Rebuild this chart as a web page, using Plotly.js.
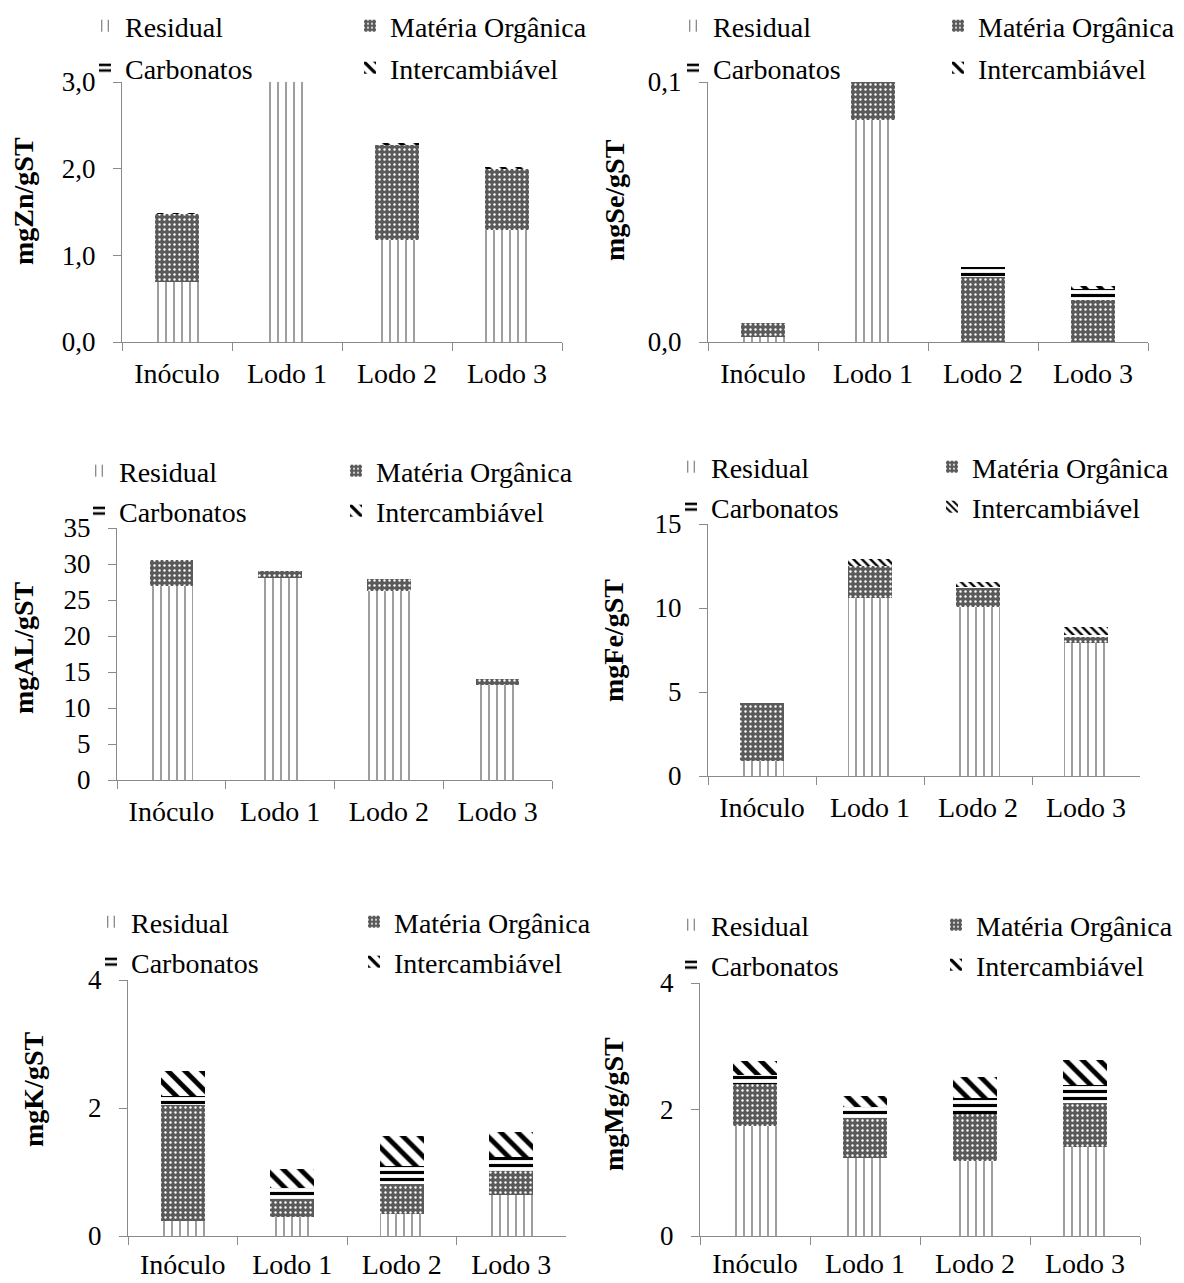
<!DOCTYPE html>
<html><head><meta charset="utf-8">
<script src="https://cdn.plot.ly/plotly-3.0.1.min.js"></script>
<style>html,body{margin:0;padding:0;background:#fff}</style>
</head><body><div id="chart" style="width:1184px;height:1283px"></div>
<script>
const categories = ['Inóculo', 'Lodo 1', 'Lodo 2', 'Lodo 3'];
const fractionNames = ['Residual', 'Matéria Orgânica', 'Carbonatos', 'Intercambiável'];

// Zn (mg/gST)
const znResidual = [0.69, 3.0, 1.18, 1.29];
const znMateria  = [0.79, 0.0, 1.09, 0.71];
const znCarbon   = [0.0, 0.0, 0.0, 0.0];
const znInterc   = [0.01, 0.0, 0.03, 0.02];
// Se
const seResidual = [0.002, 0.0853, 0.0, 0.0];
const seMateria  = [0.0053, 0.0147, 0.025, 0.016];
const seCarbon   = [0.0, 0.0, 0.0038, 0.0045];
const seInterc   = [0.0, 0.0, 0.0, 0.001];
// Al
const alResidual = [27.0, 28.1, 26.2, 13.2];
const alMateria  = [3.5, 0.9, 1.7, 0.8];
const alCarbon   = [0.0, 0.0, 0.0, 0.0];
const alInterc   = [0.0, 0.0, 0.0, 0.0];
// Fe
const feResidual = [0.89, 10.58, 10.08, 7.9];
const feMateria  = [3.44, 1.92, 1.09, 0.35];
const feCarbon   = [0.0, 0.0, 0.1, 0.14];
const feInterc   = [0.0, 0.42, 0.3, 0.46];
// K
const kResidual = [0.235, 0.29, 0.35, 0.64];
const kMateria  = [1.805, 0.284, 0.46, 0.37];
const kCarbon   = [0.15, 0.183, 0.29, 0.22];
const kInterc   = [0.39, 0.283, 0.47, 0.40];
// Mg
const mgResidual = [1.74, 1.24, 1.18, 1.40];
const mgMateria  = [0.67, 0.62, 0.75, 0.71];
const mgCarbon   = [0.14, 0.18, 0.25, 0.28];
const mgInterc   = [0.21, 0.17, 0.33, 0.40];

const W = 1184, H = 1283;
const FONT = 'Liberation Serif, Times New Roman, serif';

const panels = [
  {title: 'mgZn/gST', series: [znResidual, znMateria, znCarbon, znInterc], range: [0, 3], dtick: 1, fmt: '.1f',
   x0: 122, x1: 562, yTop: 82, yBot: 342, legX: [125, 390], legY: [26, 68], titleX: 23, titleY: 201, intSize: 11, lblGap: 6},
  {title: 'mgSe/gST', series: [seResidual, seMateria, seCarbon, seInterc], range: [0, 0.1], dtick: 0.1, fmt: '.1f',
   x0: 708, x1: 1148, yTop: 82, yBot: 342, legX: [713, 978], legY: [26, 68], titleX: 614, titleY: 200, intSize: 11, lblGap: 6},
  {title: 'mgAL/gST', series: [alResidual, alMateria, alCarbon, alInterc], range: [0, 35], dtick: 5, fmt: 'd',
   x0: 117, x1: 552, yTop: 528, yBot: 780, legX: [119, 376], legY: [471, 511], titleX: 23, titleY: 648, intSize: 11, lblGap: 6},
  {title: 'mgFe/gST', series: [feResidual, feMateria, feCarbon, feInterc], range: [0, 15], dtick: 5, fmt: 'd',
   x0: 708, x1: 1140, yTop: 524, yBot: 776, legX: [711, 972], legY: [467, 507], titleX: 614, titleY: 640, intSize: 6, lblGap: 6},
  {title: 'mgK/gST', series: [kResidual, kMateria, kCarbon, kInterc], range: [0, 4], dtick: 2, fmt: 'd',
   x0: 128, x1: 566, yTop: 980, yBot: 1236, legX: [131, 394], legY: [922, 962], titleX: 33, titleY: 1090, intSize: 12, lblGap: 3},
  {title: 'mgMg/gST', series: [mgResidual, mgMateria, mgCarbon, mgInterc], range: [0, 4], dtick: 2, fmt: 'd',
   x0: 700, x1: 1140, yTop: 983, yBot: 1236, legX: [711, 976], legY: [925, 965], titleX: 613, titleY: 1104, intSize: 12, lblGap: 2}
];

function patternFor(k, p) {
  if (k === 0) return {color: '#ffffff', pattern: {shape: '|', bgcolor: '#ffffff', fgcolor: '#333333', size: 8, solidity: 0.12, fillmode: 'replace'}};
  if (k === 1) return {color: '#5a5a5a', pattern: {shape: '.', bgcolor: '#5a5a5a', fgcolor: '#ffffff', size: 5, solidity: 0.18, fillmode: 'replace'}};
  if (k === 2) return {color: '#ffffff', pattern: {shape: '-', bgcolor: '#ffffff', fgcolor: '#000000', size: 7, solidity: 0.45, fillmode: 'replace'}};
  return {color: '#ffffff', pattern: {shape: '\\', bgcolor: '#ffffff', fgcolor: '#000000', size: p.intSize, solidity: 0.4, fillmode: 'replace'}};
}

const data = [];
const annotations = [];
const layout = {
  width: W, height: H,
  margin: {l: 0, r: 0, t: 0, b: 0, autoexpand: false},
  paper_bgcolor: '#ffffff', plot_bgcolor: '#ffffff',
  barmode: 'stack', bargap: 0.6,
  separators: ',.',
  font: {family: FONT, color: '#000000', size: 28},
  showlegend: true,
  annotations: annotations
};

let legendIndex = 0;
panels.forEach((p, i) => {
  const n = i + 1;
  const sfx = (n === 1 ? '' : String(n));
  layout['xaxis' + sfx] = {
    domain: [p.x0 / W, p.x1 / W], anchor: 'y' + sfx, type: 'category',
    tickson: 'boundaries', ticks: 'outside', ticklen: 8, tickcolor: '#8a8a8a', tickwidth: 1,
    showline: true, linecolor: '#8a8a8a', linewidth: 1, showgrid: false, zeroline: false,
    tickfont: {family: FONT, size: 28, color: '#000'}, ticklabelstandoff: p.lblGap, tickangle: 0,
    automargin: false, fixedrange: true
  };
  layout['yaxis' + sfx] = {
    domain: [1 - p.yBot / H, 1 - p.yTop / H], anchor: 'x' + sfx,
    range: p.range, tick0: 0, dtick: p.dtick, tickformat: p.fmt,
    ticks: 'outside', ticklen: 8, tickcolor: '#8a8a8a', tickwidth: 1,
    showline: true, linecolor: '#8a8a8a', linewidth: 1, showgrid: false, zeroline: false,
    tickfont: {family: FONT, size: 27, color: '#000'}, ticklabelstandoff: 12,
    automargin: false, fixedrange: true
  };
  annotations.push({
    xref: 'paper', yref: 'paper', x: p.titleX / W, y: 1 - p.titleY / H,
    xanchor: 'center', yanchor: 'middle', textangle: -90, showarrow: false,
    text: '<b>' + p.title + '</b>', font: {family: FONT, size: 28, color: '#000'}
  });
  p.series.forEach((vals, k) => {
    legendIndex += 1;
    const lname = 'legend' + (legendIndex === 1 ? '' : legendIndex);
    const st = patternFor(k, p);
    data.push({
      type: 'bar', name: fractionNames[k], x: categories, y: vals,
      xaxis: 'x' + sfx, yaxis: 'y' + sfx,
      legend: lname, showlegend: true,
      marker: {color: st.color, pattern: st.pattern, line: {width: 0}},
      hoverinfo: 'x+y+name'
    });
    const col = k % 2, row = Math.floor(k / 2);
    layout[lname] = {
      xref: 'container', yref: 'container',
      x: (p.legX[col] - 40) / W, y: 1 - p.legY[row] / H,
      xanchor: 'left', yanchor: 'middle',
      bgcolor: 'rgba(0,0,0,0)', borderwidth: 0,
      font: {family: FONT, size: 28, color: '#000'},
      itemclick: false, itemdoubleclick: false
    };
  });
});

Plotly.newPlot('chart', data, layout, {displayModeBar: false, staticPlot: true});
</script>
</body></html>
